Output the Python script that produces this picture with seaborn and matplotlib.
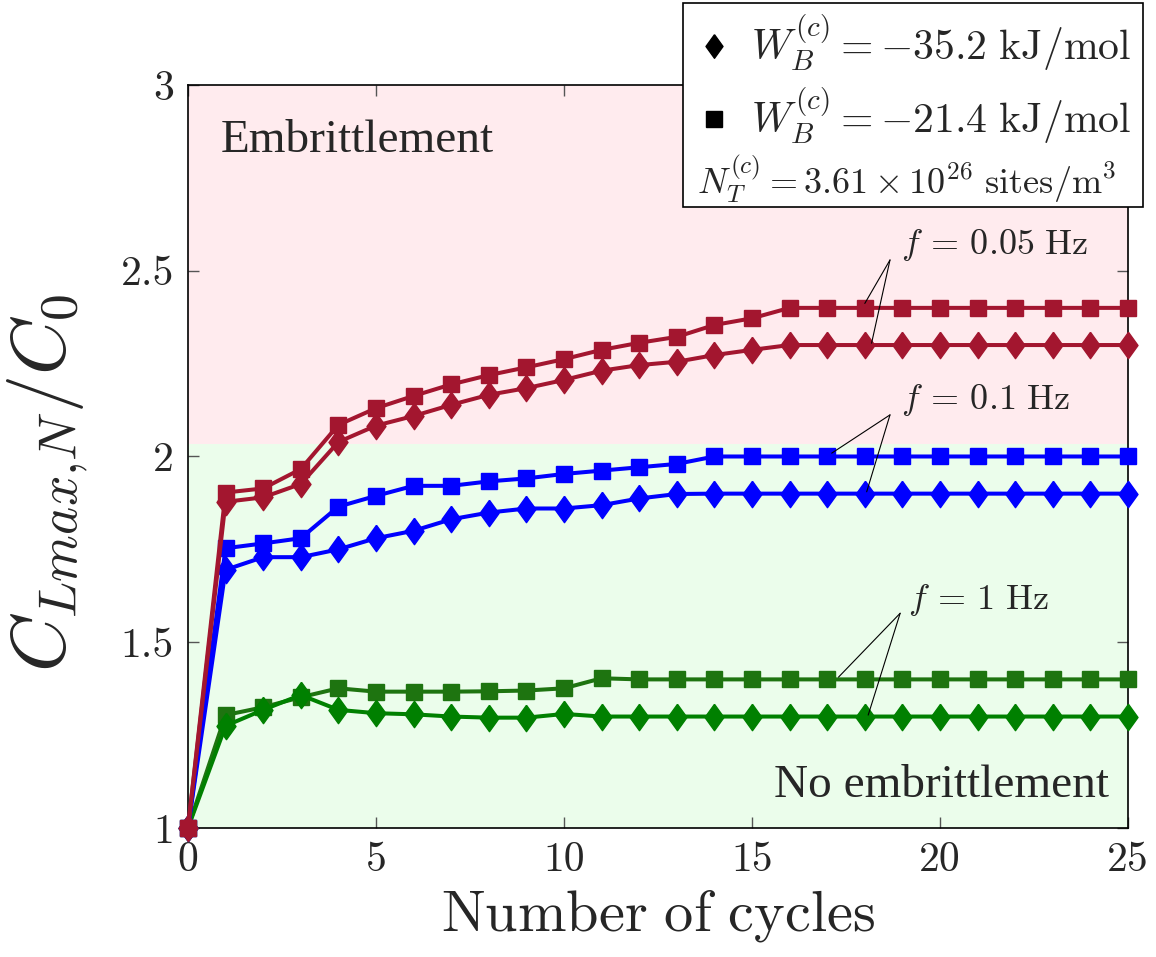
import numpy as np
import pandas as pd
import seaborn as sns
import matplotlib.pyplot as plt
from matplotlib.lines import Line2D
from matplotlib.patches import Rectangle

# Number of cycles
cycles = list(range(26))

# C_Lmax,N / C0 for each frequency, two binding energies
red_diamond = [1.0, 1.878, 1.890, 1.926, 2.039, 2.083, 2.109, 2.139, 2.166, 2.184, 2.206, 2.231, 2.246,
               2.255, 2.273, 2.287, 2.30, 2.30, 2.30, 2.30, 2.30, 2.30, 2.30, 2.30, 2.30, 2.30]
red_square = [1.0, 1.903, 1.914, 1.966, 2.085, 2.130, 2.163, 2.194, 2.219, 2.240, 2.262, 2.287, 2.306,
              2.322, 2.354, 2.372, 2.40, 2.40, 2.40, 2.40, 2.40, 2.40, 2.40, 2.40, 2.40, 2.40]
blue_diamond = [1.0, 1.695, 1.729, 1.729, 1.750, 1.780, 1.800, 1.831, 1.849, 1.860, 1.860, 1.869, 1.887,
                1.899, 1.90, 1.90, 1.90, 1.90, 1.90, 1.90, 1.90, 1.90, 1.90, 1.90, 1.90, 1.90]
blue_square = [1.0, 1.753, 1.766, 1.780, 1.865, 1.894, 1.921, 1.921, 1.933, 1.941, 1.953, 1.962, 1.971,
               1.980, 2.0, 2.0, 2.0, 2.0, 2.0, 2.0, 2.0, 2.0, 2.0, 2.0, 2.0, 2.0]
green_diamond = [1.0, 1.275, 1.318, 1.358, 1.318, 1.309, 1.306, 1.300, 1.297, 1.297, 1.307, 1.300, 1.30,
                 1.30, 1.30, 1.30, 1.30, 1.30, 1.30, 1.30, 1.30, 1.30, 1.30, 1.30, 1.30, 1.30]
green_square = [1.0, 1.304, 1.325, 1.352, 1.376, 1.367, 1.367, 1.367, 1.368, 1.370, 1.376, 1.403, 1.40,
                1.40, 1.40, 1.40, 1.40, 1.40, 1.40, 1.40, 1.40, 1.40, 1.40, 1.40, 1.40, 1.40]

x_ticks = [0, 5, 10, 15, 20, 25]
x_ticklabels = ['0', '5', '10', '15', '20', '25']
y_ticks = [1, 1.5, 2, 2.5, 3]
y_ticklabels = ['1', '1.5', '2', '2.5', '3']

threshold = 2.034

sns.set_style("ticks")
plt.rcParams['font.family'] = 'serif'
plt.rcParams['font.serif'] = ['cmr10', 'DejaVu Serif']
plt.rcParams['mathtext.fontset'] = 'cm'
plt.rcParams['axes.formatter.use_mathtext'] = True

RED = '#A3162F'
BLUE = '#0000FF'
GREEN_D = '#008000'
GREEN_S = '#1E7410'

# tall diamond like the original
diamond = [(0, 1), (0.72, 0), (0, -1), (-0.72, 0), (0, 1)]

fig = plt.figure(figsize=(11.56, 9.57), dpi=100)
ax = fig.add_axes([0.1626, 0.1348, 0.8132, 0.7764])

ax.axhspan(1, threshold, color='#EBFDEB', zorder=0, lw=0)
ax.axhspan(threshold, 3, color='#FFEBEE', zorder=0, lw=0)

series = [
    (green_square, GREEN_S, 's', 12),
    (green_diamond, GREEN_D, diamond, 19),
    (blue_diamond, BLUE, diamond, 19),
    (blue_square, BLUE, 's', 12),
    (red_diamond, RED, diamond, 19),
    (red_square, RED, 's', 12),
]
for vals, col, mk, ms in series:
    sns.lineplot(x=cycles, y=vals, color=col, marker=mk, markersize=ms, markeredgecolor=col,
                 markeredgewidth=1, linewidth=2.9, clip_on=False, ax=ax, zorder=3)

ax.set_xlim(0, 25)
ax.set_ylim(1, 3)
ax.set_xticks(x_ticks)
ax.set_xticklabels(x_ticklabels)
ax.set_yticks(y_ticks)
ax.set_yticklabels(y_ticklabels)
ax.tick_params(direction='in', length=8, width=1, color='#555555', labelsize=30,
               top=True, right=True, pad=10)
for s in ax.spines.values():
    s.set_linewidth(1.2)
    s.set_color('black')

ax.set_xlabel(r'$\mathrm{Number\ of\ cycles}$', fontsize=42, labelpad=6)
ax.set_ylabel(r'$C_{Lmax{,}N}/C_0$', fontsize=55)
ax.yaxis.set_label_coords(-0.103, 0.465)

ax.text(0.88, 2.85, 'Embrittlement', fontsize=34, family='Liberation Serif', va='center', ha='left')
ax.text(24.5, 1.115, 'No embrittlement', fontsize=34, family='Liberation Serif', va='center', ha='right')

# frequency annotations: (label, text position, line origin, two line ends)
annots = [
    (r'$f\,=\,0.05\ \mathrm{Hz}$', (18.95, 2.569), (18.67, 2.529), [(18.0, 2.412), (18.18, 2.305)]),
    (r'$f\,=\,0.1\ \mathrm{Hz}$', (18.95, 2.152), (18.67, 2.112), [(17.12, 2.009), (18.05, 1.905)]),
    (r'$f\,=\,1\ \mathrm{Hz}$', (19.15, 1.614), (18.94, 1.578), [(17.30, 1.406), (18.09, 1.304)]),
]
for label, tpos, origin, ends in annots:
    ax.text(tpos[0], tpos[1], label, fontsize=26, va='center', ha='left', zorder=5)
    for e in ends:
        ax.annotate('', xy=e, xytext=origin,
                    arrowprops=dict(arrowstyle='-', lw=0.8, color='black', shrinkA=0, shrinkB=0),
                    zorder=5)

# legend box
box = Rectangle((0.5908, 0.7837), 0.398, 0.2132, transform=fig.transFigure, facecolor='white',
                edgecolor='black', lw=1.2, zorder=10)
fig.patches.append(box)
handles = [Line2D([], [], ls='none', marker=diamond, color='black', markersize=17),
           Line2D([], [], ls='none', marker='s', color='black', markersize=12)]
labels = [r'$W_B^{(c)}=-35.2\ \mathrm{kJ/mol}$', r'$W_B^{(c)}=-21.4\ \mathrm{kJ/mol}$']
leg = fig.legend(handles, labels, loc='upper left', bbox_to_anchor=(0.603, 0.987), frameon=False,
                 fontsize=30, handlelength=0.8, handletextpad=0.5, labelspacing=0.3, borderpad=0,
                 borderaxespad=0)
leg.set_zorder(11)
fig.text(0.603, 0.813, r'$N_T^{(c)}=3.61\times10^{26}\ \mathrm{sites/m^3}$', fontsize=26,
         va='center', ha='left', zorder=11)

fig.savefig('out.png', dpi=100)
